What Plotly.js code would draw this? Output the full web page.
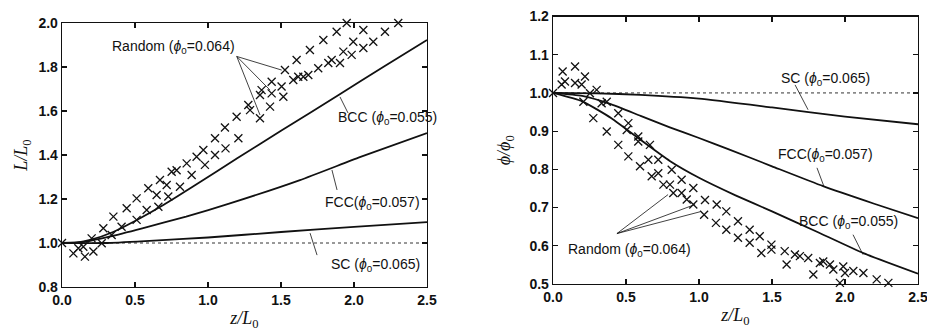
<!DOCTYPE html>
<html>
<head>
<meta charset="utf-8">
<script src="https://cdn.plot.ly/plotly-3.0.1.min.js"></script>
<style>html,body{margin:0;padding:0;background:#fff;}#chart{width:927px;height:334px;}</style>
</head>
<body>
<div id="chart"></div>
<script>
// ---------- Left panel: L/L0 vs z/L0 ----------
const scL_z  = [0, 0.3, 0.6, 1.0, 1.5, 2.0, 2.5];
const scL_v  = [1.0, 1.0, 1.01, 1.025, 1.05, 1.073, 1.095];
const fccL_z = [0, 0.15, 0.33, 0.55, 0.85, 1.15, 1.63, 2.04, 2.5];
const fccL_v = [1.0, 1.005, 1.03, 1.067, 1.12, 1.18, 1.286, 1.39, 1.50];
const bccL_z = [0, 0.1, 0.2, 0.35, 0.5, 0.7, 0.9, 1.2, 1.5, 1.9, 2.2, 2.5];
const bccL_v = [1.0, 1.002, 1.015, 1.05, 1.1, 1.175, 1.258, 1.385, 1.51, 1.675, 1.8, 1.923];

const rndL1_z = [0, 0.146, 0.203, 0.283, 0.352, 0.443, 0.511, 0.591, 0.671, 0.751, 0.854, 0.922, 0.968, 1.048, 1.116, 1.196, 1.276, 1.367, 1.436, 1.527, 1.607, 1.698, 1.79, 1.881, 1.95];
const rndL1_v = [1.0, 0.983, 1.021, 1.067, 1.12, 1.158, 1.203, 1.249, 1.286, 1.324, 1.362, 1.392, 1.423, 1.476, 1.525, 1.574, 1.627, 1.695, 1.733, 1.786, 1.832, 1.877, 1.923, 1.96, 2.0];
const rndL2_z = [0.112, 0.272, 0.34, 0.408, 0.511, 0.58, 0.648, 0.717, 0.785, 0.888, 0.979, 1.048, 1.12, 1.208, 1.288, 1.356, 1.436, 1.504, 1.584, 1.653, 1.755, 1.847, 1.927, 1.995, 2.064, 2.132, 2.212, 2.303];
const rndL2_v = [0.976, 0.999, 1.036, 1.074, 1.105, 1.15, 1.218, 1.264, 1.331, 1.309, 1.355, 1.40, 1.43, 1.476, 1.604, 1.673, 1.68, 1.711, 1.741, 1.756, 1.794, 1.832, 1.87, 1.915, 1.968, 1.915, 1.96, 2.0];
const rndL3_z = [0.078, 0.157, 0.215, 0.66, 0.728, 0.808, 1.356, 1.425, 1.516, 1.618, 1.687, 1.824, 1.904, 1.984, 2.064];
const rndL3_v = [0.953, 0.938, 0.961, 1.165, 1.211, 1.256, 1.567, 1.62, 1.665, 1.756, 1.764, 1.818, 1.818, 1.855, 1.886];

// ---------- Right panel: phi/phi0 vs z/L0 ----------
const scR_z  = [0, 0.3, 0.6, 1.0, 1.5, 2.0, 2.5];
const scR_v  = [1.0, 0.999, 0.995, 0.985, 0.962, 0.938, 0.918];
const fccR_z = [0, 0.2, 0.4, 0.6, 0.8, 1.0, 1.2, 1.5, 1.85, 2.2, 2.5];
const fccR_v = [1.0, 0.992, 0.970, 0.940, 0.910, 0.882, 0.853, 0.808, 0.756, 0.71, 0.672];
const bccR_z = [0, 0.2, 0.4, 0.6, 0.8, 1.0, 1.25, 1.5, 1.8, 2.13, 2.5];
const bccR_v = [1.0, 0.978, 0.934, 0.877, 0.822, 0.778, 0.732, 0.69, 0.638, 0.58, 0.527];

const rndR1_z = [0, 0.066, 0.151, 0.219, 0.299, 0.368, 0.447, 0.516, 0.584, 0.664, 0.721, 0.813, 0.881, 0.961, 1.041, 1.121, 1.187, 1.267, 1.347, 1.416, 1.496, 1.587, 1.657, 1.748, 1.851, 1.988, 2.126];
const rndR1_v = [1.0, 1.056, 1.069, 1.043, 1.008, 0.977, 0.947, 0.921, 0.886, 0.864, 0.825, 0.799, 0.773, 0.751, 0.720, 0.708, 0.690, 0.664, 0.642, 0.625, 0.603, 0.586, 0.577, 0.568, 0.559, 0.546, 0.529];
const rndR2_z = [0.059, 0.151, 0.196, 0.253, 0.333, 0.505, 0.584, 0.653, 0.721, 0.801, 0.881, 0.961, 1.035, 1.116, 1.187, 1.267, 1.347, 1.496, 1.691, 1.828, 1.897, 2.0, 2.057, 2.217];
const rndR2_v = [1.022, 1.026, 1.022, 0.999, 0.973, 0.903, 0.873, 0.825, 0.790, 0.760, 0.738, 0.708, 0.681, 0.660, 0.642, 0.621, 0.608, 0.590, 0.573, 0.555, 0.551, 0.529, 0.534, 0.512];
const rndR3_z = [0.082, 0.208, 0.276, 0.368, 0.447, 0.516, 0.596, 0.676, 0.756, 0.824, 0.916, 1.427, 1.600, 1.783, 1.920, 1.965, 2.297];
const rndR3_v = [1.030, 0.977, 0.934, 0.899, 0.864, 0.834, 0.808, 0.782, 0.760, 0.738, 0.721, 0.581, 0.551, 0.525, 0.538, 0.503, 0.503];

const refZ = [0, 2.5];
const refV = [1.0, 1.0];

// labels
const lblFont = {family: 'Liberation Sans, Arial, sans-serif', size: 14, color: '#111'};
const phi0 = (t) => '<i>ϕ</i><sub>0</sub>=' + t + ')';
const labelsL = [
  {text: 'Random (' + phi0('0.064'), x: 0.767, y: 1.891},
  {text: 'BCC (' + phi0('0.055'), x: 2.232, y: 1.568},
  {text: 'FCC(' + phi0('0.057'), x: 2.126, y: 1.182},
  {text: 'SC (' + phi0('0.065'), x: 2.147, y: 0.90}
];
const labelsR = [
  {text: 'SC (' + phi0('0.065'), x: 1.863, y: 1.037},
  {text: 'FCC(' + phi0('0.057'), x: 1.863, y: 0.838},
  {text: 'BCC (' + phi0('0.055'), x: 2.021, y: 0.661},
  {text: 'Random (' + phi0('0.064'), x: 0.521, y: 0.590}
];
// leader lines [x0,y0,x1,y1]
const leadersL = [
  [1.197, 1.848, 1.505, 1.786], [1.197, 1.848, 1.425, 1.695], [1.197, 1.848, 1.356, 1.582],
  [1.904, 1.664, 1.959, 1.591], [1.849, 1.332, 1.884, 1.241], [1.699, 1.045, 1.747, 0.945]
];
const leadersR = [
  [1.658, 1.021, 1.747, 0.956], [1.808, 0.804, 1.856, 0.755], [2.055, 0.629, 2.123, 0.577],
  [0.438, 0.632, 0.788, 0.734], [0.438, 0.632, 0.973, 0.708], [0.438, 0.632, 1.007, 0.689]
];

const lineStyle = {color: '#111', width: 1.8};
const mk = {symbol: 'x-thin-open', size: 8, color: '#111', line: {width: 1.3, color: '#111'}};

function curve(x, y, xa, ya) {
  return {x: x, y: y, xaxis: xa, yaxis: ya, mode: 'lines', line: Object.assign({}, lineStyle, {shape: 'spline', smoothing: 0.5}), hoverinfo: 'skip', showlegend: false};
}
function pts(x, y, xa, ya) {
  return {x: x, y: y, xaxis: xa, yaxis: ya, mode: 'markers', marker: mk, cliponaxis: false, hoverinfo: 'skip', showlegend: false};
}
function ref(xa, ya) {
  return {x: refZ, y: refV, xaxis: xa, yaxis: ya, mode: 'lines', line: {color: '#333', width: 1, dash: 'dot'}, hoverinfo: 'skip', showlegend: false};
}

const data = [
  ref('x', 'y'),
  curve(scL_z, scL_v, 'x', 'y'), curve(fccL_z, fccL_v, 'x', 'y'), curve(bccL_z, bccL_v, 'x', 'y'),
  pts(rndL1_z, rndL1_v, 'x', 'y'), pts(rndL2_z, rndL2_v, 'x', 'y'), pts(rndL3_z, rndL3_v, 'x', 'y'),
  ref('x2', 'y2'),
  curve(scR_z, scR_v, 'x2', 'y2'), curve(fccR_z, fccR_v, 'x2', 'y2'), curve(bccR_z, bccR_v, 'x2', 'y2'),
  pts(rndR1_z, rndR1_v, 'x2', 'y2'), pts(rndR2_z, rndR2_v, 'x2', 'y2'), pts(rndR3_z, rndR3_v, 'x2', 'y2')
];

const tickFont = {family: 'Liberation Sans, Arial, sans-serif', size: 14, color: '#111', weight: 'bold'};
const titleFont = {family: 'Liberation Serif, Times New Roman, serif', size: 18, color: '#111'};
function axis(range, dtick, domain, anchor, title, standoff) {
  return {
    range: range, dtick: dtick, tick0: 0, domain: domain, anchor: anchor,
    showgrid: false, zeroline: false, showline: true, linecolor: '#111', linewidth: 1.3,
    mirror: 'ticks', ticks: 'inside', ticklen: 5, tickwidth: 1.2, tickcolor: '#111',
    tickfont: tickFont, tickformat: '.1f', ticklabeloverflow: 'allow',
    title: {text: title, font: titleFont, standoff: standoff}
  };
}

const annotations = [];
labelsL.forEach(l => annotations.push({xref: 'x', yref: 'y', x: l.x, y: l.y, text: l.text, showarrow: false, font: lblFont, xanchor: 'center', yanchor: 'middle'}));
labelsR.forEach(l => annotations.push({xref: 'x2', yref: 'y2', x: l.x, y: l.y, text: l.text, showarrow: false, font: lblFont, xanchor: 'center', yanchor: 'middle'}));

const shapes = [];
leadersL.forEach(s => shapes.push({type: 'line', xref: 'x', yref: 'y', x0: s[0], y0: s[1], x1: s[2], y1: s[3], line: {color: '#111', width: 0.8}}));
leadersR.forEach(s => shapes.push({type: 'line', xref: 'x2', yref: 'y2', x0: s[0], y0: s[1], x1: s[2], y1: s[3], line: {color: '#111', width: 0.8}}));

const layout = {
  width: 927, height: 334,
  margin: {l: 0, r: 0, t: 0, b: 0},
  paper_bgcolor: '#fff', plot_bgcolor: '#fff',
  showlegend: false,
  xaxis: axis([0, 2.5], 0.5, [62/927, 427/927], 'y', '<i>z/L</i><sub>0</sub>', 4),
  yaxis: axis([0.8, 2.0], 0.2, [47/334, 311/334], 'x', '<i>L/L</i><sub>0</sub>', 6),
  xaxis2: axis([0, 2.5], 0.5, [553/927, 918/927], 'y2', '<i>z/L</i><sub>0</sub>', 4),
  yaxis2: axis([0.5, 1.2], 0.1, [50/334, 317.5/334], 'x2', '<i>ϕ/ϕ</i><sub>0</sub>', 14),
  annotations: annotations,
  shapes: shapes
};

Plotly.newPlot('chart', data, layout, {staticPlot: true, displayModeBar: false});
</script>
</body>
</html>
